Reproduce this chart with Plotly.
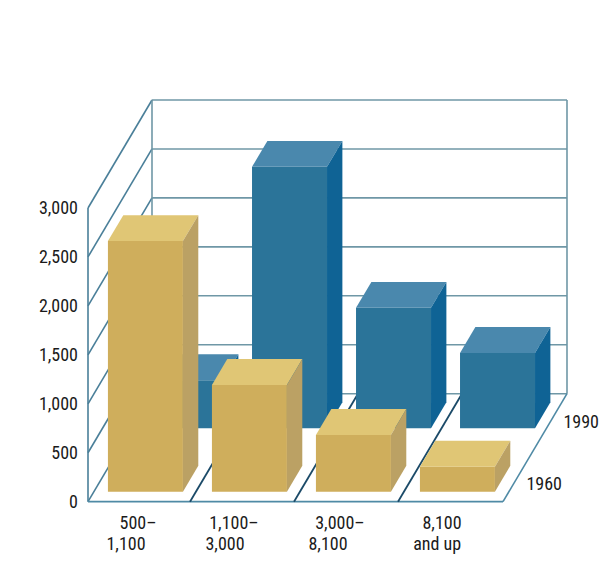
import plotly.graph_objects as go

# ---- data ----
category_line1 = ["500–", "1,100–", "3,000–", "8,100"]
category_line2 = ["1,100", "3,000", "8,100", "and up"]
values_1960 = [2560, 1090, 580, 255]
values_1990 = [490, 2670, 1230, 770]
y_ticks = [0, 500, 1000, 1500, 2000, 2500, 3000]
series_names = ["1960", "1990"]

# ---- oblique projection / style ----
W, H = 600, 585
PX_PER_CAT = 104.0
PX_PER_VAL = 0.0979
ORIGIN_X = 102.0      # pixel of category 0, front
ORIGIN_Y = 501.7      # pixel of value 0, front
DEPTH_DX = 64.0 / PX_PER_CAT
DEPTH_DY = 108.0 / PX_PER_VAL
BAR_W = 75.0 / PX_PER_CAT
BAR_D = 0.24
Z_ROW = {"1960": 0.0926, "1990": 0.68}
C_ROW = {"1960": 0.0, "1990": 0.024}
FLOOR_L = -14.0 / PX_PER_CAT
FLOOR_R = 401.0 / PX_PER_CAT
DIVIDERS = [0.846, 1.846, 2.846]
LINE1_PX = [138, 234, 340, 442]
LINE2_PX = [126, 225, 328, 437]
LINE1_Y, LINE2_Y = 522, 543

YELLOW = dict(front="#CFAE5C", top="#E0C675", side="#BBA164")
BLUE = dict(front="#2B7499", top="#4A88AD", side="#0F6395")
C_BACK, C_LEFT, C_FLOOR, C_DIV = "#6F97A6", "#4A7F99", "#4F8AA5", "#1B4A68"
FONT = "Roboto, Liberation Sans, sans-serif"
FS = 18
INK = "#1a1a1a"


def pr(c, v, z):
    return c + z * DEPTH_DX, v + z * DEPTH_DY


def dx(px):
    return (px - ORIGIN_X) / PX_PER_CAT


def dy(px):
    return (ORIGIN_Y - px) / PX_PER_VAL


def poly(points, color):
    xs, ys = zip(*[pr(*p) for p in points])
    return go.Scatter(x=list(xs) + [xs[0]], y=list(ys) + [ys[0]], mode="lines", fill="toself",
                      fillcolor=color, line=dict(width=0, color=color), hoverinfo="skip", showlegend=False)


def seg(a, b, color, width):
    xa, ya = pr(*a)
    xb, yb = pr(*b)
    return go.Scatter(x=[xa, xb], y=[ya, yb], mode="lines", line=dict(color=color, width=width),
                      hoverinfo="skip", showlegend=False)


def bar(i, value, name, colors):
    z0, z1 = Z_ROW[name], Z_ROW[name] + BAR_D
    c0 = i + C_ROW[name]
    c1 = c0 + BAR_W
    return [
        poly([(c0, 0, z0), (c1, 0, z0), (c1, value, z0), (c0, value, z0)], colors["front"]),
        poly([(c0, value, z0), (c1, value, z0), (c1, value, z1), (c0, value, z1)], colors["top"]),
        poly([(c1, 0, z0), (c1, 0, z1), (c1, value, z1), (c1, value, z0)], colors["side"]),
    ]


fig = go.Figure()
top = y_ticks[-1]

# frame
for t in y_ticks:
    fig.add_trace(seg((FLOOR_L, t, 1), (FLOOR_R, t, 1), C_BACK, 1.6))
    fig.add_trace(seg((FLOOR_L, t, 0), (FLOOR_L, t, 1), C_LEFT, 1.6))
fig.add_trace(seg((FLOOR_L, 0, 1), (FLOOR_L, top, 1), C_BACK, 1.6))
fig.add_trace(seg((FLOOR_R, 0, 1), (FLOOR_R, top, 1), C_BACK, 1.6))
fig.add_trace(seg((FLOOR_L, 0, 0), (FLOOR_L, top, 0), C_LEFT, 1.6))
fig.add_trace(seg((FLOOR_L, 0, 0), (FLOOR_R, 0, 0), C_FLOOR, 1.8))
fig.add_trace(seg((FLOOR_R, 0, 0), (FLOOR_R, 0, 1), C_FLOOR, 1.6))
for d in DIVIDERS:
    fig.add_trace(seg((d, 0, 0), (d, 0, 1), C_DIV, 1.8))

# bars: back row first
for i, v in enumerate(values_1990):
    for tr in bar(i, v, series_names[1], BLUE):
        fig.add_trace(tr)
for i, v in enumerate(values_1960):
    for tr in bar(i, v, series_names[0], YELLOW):
        fig.add_trace(tr)

annotations = []
label_font = dict(family=FONT, size=FS, color=INK)
for texts, xs, py in [(category_line1, LINE1_PX, LINE1_Y), (category_line2, LINE2_PX, LINE2_Y)]:
    for text, px in zip(texts, xs):
        annotations.append(dict(x=dx(px), y=dy(py), xref="x", yref="y", xanchor="center", yanchor="middle",
                                text=text, showarrow=False, font=label_font))
annotations.append(dict(x=dx(544), y=dy(483), xref="x", yref="y", xanchor="center", yanchor="middle",
                        text=series_names[0], showarrow=False, font=label_font))
annotations.append(dict(x=dx(599), y=dy(421), xref="x", yref="y", xanchor="right", yanchor="middle",
                        xshift=4, text=series_names[1], showarrow=False, font=label_font))

fig.update_layout(
    width=W, height=H, margin=dict(l=0, r=0, t=0, b=0),
    paper_bgcolor="white", plot_bgcolor="white", showlegend=False,
    annotations=annotations,
    xaxis=dict(range=[-ORIGIN_X / PX_PER_CAT, (W - ORIGIN_X) / PX_PER_CAT], domain=[0, 1],
               visible=False, fixedrange=True),
    yaxis=dict(range=[(ORIGIN_Y - H) / PX_PER_VAL, ORIGIN_Y / PX_PER_VAL], domain=[0, 1],
               anchor="free", position=88 / W, tickvals=y_ticks, tickformat=",d",
               showgrid=False, zeroline=False, showline=False, ticks="", ticklabelstandoff=10,
               tickfont=dict(family=FONT, size=FS, color=INK), fixedrange=True),
)
page_css = ("document.body.style.margin='0';"
            "var s=document.createElement('style');"
            "s.textContent='svg text{font-stretch:75% !important;}';"
            "document.head.appendChild(s);")
fig.write_html("out.html", config=dict(displayModeBar=False), post_script=page_css)
